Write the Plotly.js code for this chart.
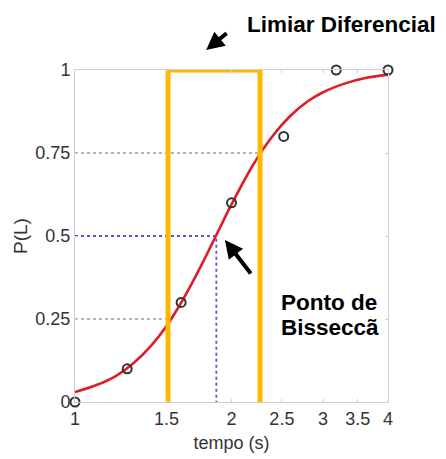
<!DOCTYPE html>
<html>
<head>
<meta charset="utf-8">
<script src="https://cdn.plot.ly/plotly-3.0.1.min.js"></script>
<style>html,body{margin:0;padding:0;background:#fff;}#chart{width:446px;height:459px;}</style>
</head>
<body>
<div id="chart"></div>
<script>
// Observed data points (tempo in s, P(L))
const obsTempo = [1, 1.26, 1.6, 2, 2.52, 3.18, 4];
const obsP = [0, 0.1, 0.3, 0.6, 0.8, 1, 1];

// Fitted curve
const fitTempo = [1, 1.1, 1.2, 1.3, 1.4, 1.5, 1.6, 1.7, 1.8, 1.9, 2.0, 2.2, 2.4, 2.6, 2.8, 3.0, 3.3, 3.6, 4.0];
const fitP = [0.030, 0.051, 0.079, 0.119, 0.169, 0.229, 0.299, 0.374, 0.450, 0.525, 0.595, 0.714, 0.801, 0.863, 0.905, 0.933, 0.959, 0.975, 0.986];

// Reference levels
const lowQ = {t: 1.54, p: 0.25};
const mid = {t: 1.87, p: 0.5};
const highQ = {t: 2.29, p: 0.75};

// Threshold box (Limiar Diferencial)
const boxT = [1.51, 1.51, 2.27, 2.27];
const boxP = [0, 1, 1, 0];

// Tick labels
const xTicks = [1, 1.5, 2, 2.5, 3, 3.5, 4];
const xTickText = ["1", "1.5", "2", "2.5", "3", "3.5", "4"];
const yTicks = [0, 0.25, 0.5, 0.75, 1];
const yTickText = ["0", "0.25", "0.5", "0.75", "1"];

const sans = "Liberation Sans, Arial, sans-serif";

const traces = [
  {x: [1, highQ.t], y: [highQ.p, highQ.p], mode: 'lines', line: {color: '#9a9a9a', width: 1.5, dash: 'dot'}, hoverinfo: 'skip'},
  {x: [1, lowQ.t], y: [lowQ.p, lowQ.p], mode: 'lines', line: {color: '#9a9a9a', width: 1.5, dash: 'dot'}, hoverinfo: 'skip'},
  {x: [1, mid.t, mid.t], y: [mid.p, mid.p, 0], mode: 'lines', line: {color: '#5a50dc', width: 1.8, dash: 'dot'}, hoverinfo: 'skip'},
  {x: fitTempo, y: fitP, mode: 'lines', line: {color: '#dc1e28', width: 2.6, shape: 'spline'}},
  {x: obsTempo, y: obsP, mode: 'markers', cliponaxis: false, marker: {symbol: 'circle-open', size: 9, color: '#333', line: {width: 2, color: '#333'}}},
  {x: boxT, y: boxP, mode: 'lines', cliponaxis: false, line: {color: '#FFB800', width: 5}}
];

const layout = {
  width: 446, height: 459,
  margin: {l: 75, r: 58, t: 70, b: 57},
  paper_bgcolor: '#fff', plot_bgcolor: '#fff',
  showlegend: false,
  xaxis: {
    type: 'log', range: [0, Math.log10(4)],
    tickvals: xTicks, ticktext: xTickText,
    showgrid: false, zeroline: false,
    showline: true, linecolor: '#cfcfcf', linewidth: 1, mirror: 'ticks',
    ticks: 'inside', ticklen: 3, tickcolor: '#cfcfcf',
    tickfont: {family: sans, size: 18, color: '#333'},
    title: {text: 'tempo (s)', font: {family: sans, size: 18, color: '#333'}, standoff: 8}
  },
  yaxis: {
    range: [0, 1],
    tickvals: yTicks, ticktext: yTickText,
    showgrid: false, zeroline: false,
    showline: true, linecolor: '#cfcfcf', linewidth: 1, mirror: 'ticks',
    ticks: 'inside', ticklen: 3, tickcolor: '#cfcfcf',
    tickfont: {family: sans, size: 18, color: '#333'},
    title: {text: 'P(L)', font: {family: sans, size: 19, color: '#333'}, standoff: 2}
  },
  annotations: [
    {xref: 'paper', yref: 'paper', x: 0.543, y: 1.136, xanchor: 'left', yanchor: 'middle', showarrow: false,
     text: '<b>Limiar Diferencial</b>', font: {family: sans, size: 22.5, color: '#000'}},
    {xref: 'paper', yref: 'paper', x: 0.419, y: 1.060, ax: 22, ay: -18, text: '', showarrow: true,
     arrowhead: 2, arrowsize: 0.9, arrowwidth: 4, arrowcolor: '#000'},
    {xref: 'paper', yref: 'paper', x: 0.652, y: 0.301, xanchor: 'left', yanchor: 'middle', showarrow: false,
     text: '<b>Ponto de</b>', font: {family: sans, size: 22.5, color: '#000'}},
    {xref: 'paper', yref: 'paper', x: 0.652, y: 0.223, xanchor: 'left', yanchor: 'middle', showarrow: false,
     text: '<b>Bisseccã</b>', font: {family: sans, size: 22.5, color: '#000'}},
    {xref: 'paper', yref: 'paper', x: 0.479, y: 0.488, ax: 27, ay: 35, text: '', showarrow: true,
     arrowhead: 2, arrowsize: 0.9, arrowwidth: 4, arrowcolor: '#000'}
  ]
};

Plotly.newPlot('chart', traces, layout, {displayModeBar: false, staticPlot: true});
</script>
</body>
</html>
